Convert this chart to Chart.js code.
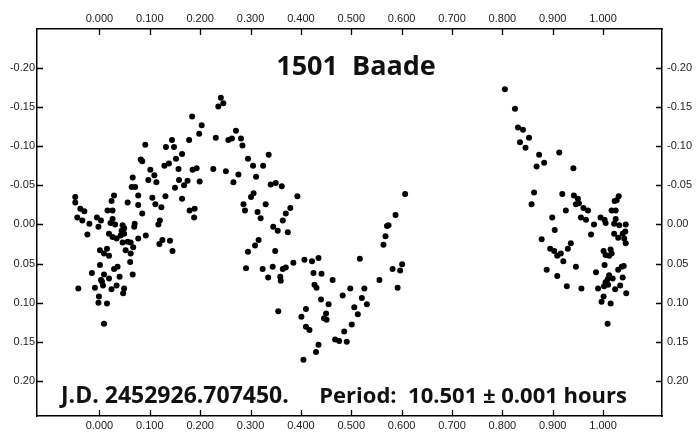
<!DOCTYPE html>
<html>
<head>
<meta charset="utf-8">
<script src="https://cdn.jsdelivr.net/npm/chart.js@4/dist/chart.umd.min.js"></script>
<style>
  html, body { margin: 0; padding: 0; background: #fff; }
</style>
</head>
<body>
<canvas id="lc" width="700" height="439"></canvas>
<script>
// rotational phase and differential magnitude
const phase = [
  0.144, 0.132, 0.148, 0.091, 0.164, 0.082, 0.085, 0.152, 0.129, 0.138,
  0.157, 0.101, 0.109, 0.097, 0.113, 0.066, 0.158, 0.150, 0.168, 0.064,
  0.071, 0.077, 0.105, 0.131, 0.164, 0.029, 0.024, 0.056, 0.077, 0.111,
  0.123, -0.048, -0.048, 0.016, 0.026, 0.085, -0.038, -0.030, -0.044, -0.034,
  -0.020, -0.005, 0.003, -0.002, 0.026, 0.022, 0.031, 0.046, 0.049, 0.070,
  0.120, 0.117, -0.024, 0.019, 0.026, 0.034, 0.044, 0.049, 0.042, 0.046,
  0.056, 0.062, 0.069, 0.077, 0.092, 0.067, 0.052, 0.062, 0.119, 0.125,
  0.140, 0.145, 0.001, 0.009, 0.015, 0.019, 0.001, 0.061, 0.036, 0.029,
  -0.015, 0.009, 0.019, 0.040, 0.066, 0.003, 0.007, 0.034, 0.024, 0.049,
  0.047, -0.009, -0.042, -0.001, -0.002, 0.015, 0.009, 0.005,
  0.241, 0.246, 0.236, 0.184, 0.203, 0.198, 0.178, 0.231, 0.271, 0.256,
  0.263, 0.281, 0.284, 0.336, 0.295, 0.305, 0.325, 0.185, 0.193, 0.226,
  0.251, 0.276, 0.311, 0.175, 0.199, 0.266, 0.340, 0.350, 0.362, 0.393,
  0.306, 0.301, 0.286, 0.289, 0.330, 0.379, 0.370, 0.364, 0.179, 0.189,
  0.188, 0.314, 0.320, 0.345, 0.354, 0.374, 0.316, 0.309, 0.295, 0.349,
  0.291, 0.324, 0.344, 0.364, 0.370, 0.385, 0.407, 0.335, 0.359, 0.360,
  0.355, 0.410, 0.401, 0.410, 0.405,
  0.607, 0.588, 0.574, 0.571, 0.568, 0.564, 0.422, 0.435, 0.517, 0.601,
  0.582, 0.597, 0.425, 0.441, 0.463, 0.556, 0.427, 0.431, 0.498, 0.526,
  0.592, 0.483, 0.440, 0.521, 0.455, 0.506, 0.531, 0.450, 0.446, 0.451,
  0.513, 0.501, 0.417, 0.486, 0.468, 0.476, 0.491, 0.435, 0.430,
  0.805, 0.825, 0.831, 0.841, 0.853, 0.835, 0.846, 0.873, 0.913, 0.883,
  0.868, 0.941, 0.863, 0.858, 0.919, 0.942, 0.950, 0.952, 0.946, 0.926,
  1.031, 1.027, 1.023, 0.961, 0.970, 1.017, 1.025, 0.899, 0.956, 0.966,
  0.982, 0.995, 1.003, 1.005, 1.025, 1.022, 1.032, 1.045, 0.904, 0.976,
  0.878, 0.936, 0.930, 0.895, 0.903, 0.916, 0.909, 0.921, 0.946, 0.888,
  0.909, 0.928, 0.957, 1.022, 1.030, 1.039, 1.044, 1.042, 1.045, 1.001,
  1.005, 1.015, 1.012, 1.017, 1.003, 1.037, 1.030, 1.041, 0.986, 1.012,
  1.019, 1.009, 1.005, 1.002, 1.010, 1.039, 0.990, 1.024, 1.034, 1.046,
  1.001, 0.997, 1.015, 1.009
];
const mag = [
  -0.108, -0.099, -0.099, -0.102, -0.090, -0.083, -0.081, -0.084, -0.075, -0.078,
  -0.071, -0.070, -0.063, -0.057, -0.054, -0.060, -0.057, -0.047, -0.050, -0.048,
  -0.048, -0.037, -0.034, -0.036, -0.033, -0.037, -0.030, -0.028, -0.025, -0.026,
  -0.022, -0.035, -0.028, -0.018, -0.018, -0.014, -0.020, -0.017, -0.009, -0.005,
  -0.001, -0.009, -0.005, 0.003, -0.007, -0.002, 0.000, 0.001, 0.005, -0.001,
  -0.005, 0.000, 0.013, 0.012, 0.016, 0.018, 0.008, 0.012, 0.014, 0.023,
  0.022, 0.023, 0.003, 0.018, 0.014, 0.029, 0.033, 0.037, 0.025, 0.020,
  0.021, 0.034, 0.033, 0.037, 0.031, 0.040, 0.052, 0.048, 0.054, 0.057,
  0.062, 0.064, 0.069, 0.067, 0.064, 0.071, 0.078, 0.078, 0.083, 0.082,
  0.088, 0.081, 0.082, 0.092, 0.100, 0.101, 0.127, 0.073,
  -0.162, -0.155, -0.151, -0.138, -0.127, -0.116, -0.108, -0.111, -0.120, -0.108,
  -0.110, -0.110, -0.101, -0.089, -0.084, -0.075, -0.075, -0.070, -0.072, -0.071,
  -0.068, -0.064, -0.061, -0.056, -0.055, -0.054, -0.051, -0.053, -0.049, -0.036,
  -0.040, -0.035, -0.026, -0.018, -0.026, -0.021, -0.014, -0.005, -0.018, -0.020,
  -0.009, -0.016, -0.008, 0.003, 0.008, 0.010, 0.020, 0.027, 0.035, 0.034,
  0.056, 0.057, 0.054, 0.057, 0.055, 0.049, 0.045, 0.068, 0.067, 0.072,
  0.111, 0.108, 0.118, 0.131, 0.173,
  -0.039, -0.012, 0.001, 0.002, 0.015, 0.026, 0.047, 0.043, 0.044, 0.051,
  0.057, 0.059, 0.062, 0.063, 0.071, 0.071, 0.077, 0.081, 0.082, 0.082,
  0.081, 0.091, 0.096, 0.094, 0.102, 0.106, 0.102, 0.114, 0.120, 0.122,
  0.115, 0.128, 0.135, 0.137, 0.147, 0.149, 0.150, 0.154, 0.163,
  -0.173, -0.148, -0.124, -0.121, -0.111, -0.105, -0.098, -0.089, -0.092, -0.079,
  -0.074, -0.072, -0.041, -0.026, -0.039, -0.037, -0.033, -0.027, -0.026, -0.018,
  -0.036, -0.031, -0.030, -0.021, -0.018, -0.018, -0.018, -0.009, -0.009, -0.006,
  0.000, -0.009, -0.006, -0.002, -0.007, -0.001, 0.001, 0.000, 0.007, 0.013,
  0.019, 0.024, 0.031, 0.031, 0.034, 0.037, 0.040, 0.047, 0.054, 0.058,
  0.066, 0.079, 0.082, 0.012, 0.017, 0.012, 0.009, 0.018, 0.024, 0.034,
  0.039, 0.032, 0.040, 0.037, 0.052, 0.054, 0.058, 0.053, 0.061, 0.065,
  0.069, 0.070, 0.074, 0.079, 0.077, 0.068, 0.082, 0.083, 0.078, 0.088,
  0.092, 0.099, 0.101, 0.127
];
const xTicks = [0, 0.1, 0.2, 0.3, 0.4, 0.5, 0.6, 0.7, 0.8, 0.9, 1.0];
const yTicks = [-0.20, -0.15, -0.10, -0.05, 0, 0.05, 0.10, 0.15, 0.20];

const titleText = '1501  Baade';
const jdText = 'J.D. 2452926.707450.';
const periodText = 'Period:  10.501 \u00b1 0.001 hours';

const points = phase.map((p, i) => ({ x: p, y: mag[i] }));

const tickFont = { family: 'Liberation Sans, Arial, sans-serif', size: 11 };
const tickColor = '#222';

function xAxis(pos, h) {
  return {
    type: 'linear', position: pos, min: -0.124, max: 1.117,
    afterBuildTicks: s => { s.ticks = xTicks.map(v => ({ value: v })); },
    afterFit: s => { s.height = h; },
    ticks: { callback: v => Number(v).toFixed(3), font: tickFont, color: tickColor,
             padding: 3, maxRotation: 0, autoSkip: false },
    grid: { drawOnChartArea: false, drawTicks: false },
    border: { color: '#000', width: 1.5 }
  };
}
function yAxis(pos, w) {
  return {
    type: 'linear', position: pos, reverse: true, min: -0.25, max: 0.245,
    afterBuildTicks: s => { s.ticks = yTicks.map(v => ({ value: v })); },
    afterFit: s => { s.width = w; },
    ticks: { callback: v => Number(v).toFixed(2), font: tickFont, color: tickColor,
             padding: pos === 'left' ? 2 : 5, autoSkip: false },
    grid: { drawOnChartArea: false, drawTicks: false },
    border: { color: '#000', width: 1.5 }
  };
}

// tick marks point inward, plus the texts inside the frame
const frameExtras = {
  id: 'frameExtras',
  afterDraw(chart) {
    const { ctx, chartArea: a, scales } = chart;
    ctx.save();
    ctx.strokeStyle = '#000';
    ctx.lineWidth = 1.3;
    ctx.beginPath();
    xTicks.forEach(v => {
      const px = Math.round(scales.x.getPixelForValue(v)) + 0.5;
      ctx.moveTo(px, a.top); ctx.lineTo(px, a.top + 6);
      ctx.moveTo(px, a.bottom); ctx.lineTo(px, a.bottom - 6);
    });
    yTicks.forEach(v => {
      const py = Math.round(scales.y.getPixelForValue(v)) + 0.5;
      ctx.moveTo(a.left, py); ctx.lineTo(a.left + 6, py);
      ctx.moveTo(a.right, py); ctx.lineTo(a.right - 6, py);
    });
    ctx.stroke();

    ctx.fillStyle = '#111';
    ctx.textBaseline = 'alphabetic';
    ctx.font = 'bold 27px "Open Sans", sans-serif';
    ctx.textAlign = 'center';
    ctx.fillText(titleText, 356, 75);

    ctx.font = 'bold 23px "Open Sans", sans-serif';
    ctx.textAlign = 'left';
    ctx.fillText(jdText, 61, 403);
    ctx.font = 'bold 22px "Open Sans", sans-serif';
    ctx.textAlign = 'right';
    ctx.fillText(periodText, 627, 403);
    ctx.restore();
  }
};

new Chart(document.getElementById('lc').getContext('2d'), {
  type: 'scatter',
  data: {
    datasets: [{
      label: '1501 Baade',
      data: points,
      backgroundColor: '#000',
      borderWidth: 0,
      pointRadius: 3
    }]
  },
  options: {
    responsive: false,
    animation: false,
    layout: { padding: 0 },
    plugins: { legend: { display: false }, tooltip: { enabled: false } },
    scales: {
      x: xAxis('bottom', 23),
      x2: xAxis('top', 29),
      y: yAxis('left', 37),
      y2: yAxis('right', 38)
    }
  },
  plugins: [frameExtras]
});
</script>
</body>
</html>
